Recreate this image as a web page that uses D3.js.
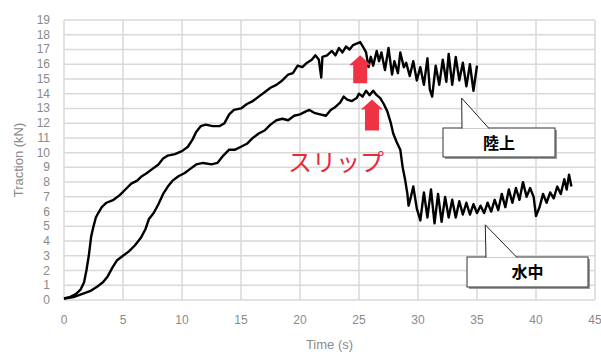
<!DOCTYPE html>
<html lang="ja">
<head>
<meta charset="UTF-8">
<title>Traction</title>
<script src="https://d3js.org/d3.v7.min.js"></script>
<style>
  body { margin: 0; background: #fff; }
  text { font-family: "Liberation Sans", "DejaVu Sans", sans-serif; }
</style>
</head>
<body>
<script>
// 陸上 (land)
const landTime = [0,0.5,1.0,1.4,1.7,1.9,2.1,2.3,2.5,2.7,2.9,3.2,3.6,4.2,4.7,5.2,5.7,6.2,6.6,7.0,7.5,8.0,8.4,8.8,9.4,10.0,10.5,10.9,11.2,11.6,12.0,12.6,13.2,13.6,14.0,14.4,15.0,15.5,16.0,16.5,17.0,17.5,18.0,18.5,19.0,19.4,19.8,20.2,20.6,21.0,21.3,21.6,21.8,21.9,22.3,22.7,23.0,23.3,23.6,23.9,24.2,24.5,24.8,25.1,25.4,25.6,25.8,26.0,26.2,26.5,26.7,26.9,27.2,27.5,27.8,28.0,28.3,28.5,28.8,29.0,29.3,29.6,29.9,30.2,30.5,30.8,31.0,31.2,31.5,31.8,32.1,32.4,32.6,32.9,33.2,33.5,33.8,34.1,34.4,34.7,35.0]
const landForce = [0.1,0.2,0.4,0.7,1.2,2.0,3.0,4.3,5.0,5.6,5.9,6.3,6.6,6.8,7.1,7.5,7.9,8.1,8.4,8.6,8.9,9.2,9.6,9.8,9.9,10.1,10.4,10.9,11.4,11.8,11.9,11.8,11.8,12.0,12.6,12.9,13.0,13.3,13.5,13.8,14.1,14.4,14.6,14.9,15.3,15.4,15.9,15.8,16.1,16.3,16.6,16.3,15.1,16.5,16.6,16.9,16.6,17.1,16.8,17.2,17.0,17.3,17.4,17.5,17.1,16.8,15.8,16.5,15.9,16.9,16.2,16.8,15.6,17.1,15.3,16.2,15.4,16.8,15.8,16.1,15.2,16.2,14.9,15.8,14.6,16.4,14.3,13.8,15.9,14.6,16.3,14.8,16.7,14.6,16.5,14.9,16.1,14.5,16.0,14.2,15.9]

// 水中 (underwater)
const waterTime = [0,0.8,1.5,2.2,2.8,3.3,3.7,4.1,4.5,5.0,5.5,6.0,6.5,6.9,7.2,7.6,8.0,8.4,8.8,9.2,9.7,10.2,10.7,11.2,11.8,12.5,13.0,13.5,14.0,14.5,15.0,15.5,16.0,16.5,17.0,17.5,18.0,18.5,19.0,19.5,20.0,20.5,20.8,21.2,21.7,22.2,22.6,23.0,23.4,23.7,24.0,24.4,24.8,25.0,25.3,25.6,25.9,26.2,26.5,26.8,27.1,27.4,27.7,27.9,28.2,28.5,28.7,28.9,29.1,29.2,29.4,29.6,29.9,30.2,30.5,30.8,31.1,31.4,31.7,32.0,32.3,32.6,32.9,33.2,33.5,33.8,34.1,34.4,34.7,35.0,35.3,35.6,35.9,36.2,36.5,36.8,37.1,37.4,37.7,38.0,38.3,38.6,38.9,39.2,39.5,39.8,40.0,40.3,40.6,40.9,41.2,41.5,41.8,42.1,42.4,42.6,42.8,43.0]
const waterForce = [0.1,0.2,0.4,0.6,0.9,1.2,1.6,2.2,2.7,3.0,3.3,3.7,4.2,4.8,5.5,5.9,6.5,7.2,7.7,8.1,8.4,8.6,8.9,9.2,9.3,9.2,9.3,9.8,10.2,10.2,10.4,10.6,11.0,11.3,11.5,11.9,12.2,12.3,12.2,12.5,12.6,12.8,12.9,12.7,12.6,12.5,12.9,13.1,13.4,13.8,13.6,13.5,13.7,14.0,13.8,14.2,13.9,14.2,13.9,13.7,13.3,12.8,12.0,11.3,10.7,10.2,9.0,8.2,7.2,6.4,7.0,7.7,6.2,5.4,7.3,5.6,7.5,5.2,7.2,5.3,7.0,5.6,6.8,5.6,6.7,5.8,6.6,5.8,6.5,5.9,6.4,5.9,6.6,6.0,6.8,6.1,7.2,6.3,7.5,6.6,7.6,6.8,8.0,7.0,7.6,7.0,5.7,6.3,7.2,6.6,7.3,6.9,7.7,7.2,8.2,7.5,8.5,7.7]

const xTicks = [0,5,10,15,20,25,30,35,40,45]
const yTicks = d3.range(0, 20)

const width = 601
const height = 352

const svg = d3.select("body").append("svg")
    .attr("width", width)
    .attr("height", height)

const x = d3.scaleLinear().domain([0, 45]).range([64, 595])
const y = d3.scaleLinear().domain([0, 19]).range([300, 20])

// grid
svg.append("g").selectAll("line")
    .data(yTicks).enter().append("line")
    .attr("x1", x(0)).attr("x2", x(45))
    .attr("y1", d => y(d)).attr("y2", d => y(d))
    .attr("stroke", "#d9d9d9").attr("stroke-width", 1.5)
svg.append("g").selectAll("line")
    .data(xTicks).enter().append("line")
    .attr("y1", y(0)).attr("y2", y(19))
    .attr("x1", d => x(d)).attr("x2", d => x(d))
    .attr("stroke", "#d9d9d9").attr("stroke-width", 1.5)

// tick labels
svg.append("g").selectAll("text")
    .data(yTicks).enter().append("text")
    .attr("x", 50).attr("y", d => y(d) + 4)
    .attr("text-anchor", "end")
    .attr("fill", "#8a8a8a").style("font-size", "12px")
    .text(d => d)
svg.append("g").selectAll("text")
    .data(xTicks).enter().append("text")
    .attr("x", d => x(d)).attr("y", 324)
    .attr("text-anchor", "middle")
    .attr("fill", "#8a8a8a").style("font-size", "12px")
    .text(d => d)

// axis titles
svg.append("text")
    .attr("x", x(22.5)).attr("y", 349)
    .attr("text-anchor", "middle")
    .attr("fill", "#8a8a8a").style("font-size", "13px")
    .text("Time (s)")
svg.append("text")
    .attr("transform", `translate(23, ${y(9.5)}) rotate(-90)`)
    .attr("text-anchor", "middle")
    .attr("fill", "#8a8a8a").style("font-size", "13px")
    .text("Traction (kN)")

// curves
const line = d3.line().x(d => x(d[0])).y(d => y(d[1]))
const land = landTime.map((t, i) => [t, landForce[i]])
const water = waterTime.map((t, i) => [t, waterForce[i]])
svg.append("path").datum(land)
    .attr("d", line).attr("fill", "none")
    .attr("stroke", "#000").attr("stroke-width", 2.4).attr("stroke-linejoin", "round")
svg.append("path").datum(water)
    .attr("d", line).attr("fill", "none")
    .attr("stroke", "#000").attr("stroke-width", 2.4).attr("stroke-linejoin", "round")

// red arrows (slip points)
const arrows = [
    { t: 25.1, top: 16.6, bottom: 14.7 },
    { t: 26.1, top: 13.6, bottom: 11.5 }
]
svg.append("g").selectAll("path")
    .data(arrows).enter().append("path")
    .attr("fill", "#ee3344")
    .attr("d", d => {
        const cx = x(d.t), ty = y(d.top), by = y(d.bottom)
        const hb = ty + 10
        return `M${cx},${ty} L${cx + 11},${hb} L${cx + 7},${hb} L${cx + 7},${by} L${cx - 7},${by} L${cx - 7},${hb} L${cx - 11},${hb} Z`
    })

svg.append("text")
    .attr("x", 288).attr("y", 171)
    .attr("fill", "#e8283f")
    .style("font-family", "'Noto Sans CJK JP', sans-serif")
    .style("font-weight", 400)
    .style("font-size", "24px")
    .text("スリップ")

// callouts
const callouts = [
    { label: "陸上", tipT: 33.7, tipV: 13.7, x0: 443, x1: 555, y0: 128, y1: 157, p0: 462, p1: 489 },
    { label: "水中", tipT: 35.7, tipV: 5.1, x0: 467, x1: 588, y0: 257, y1: 287, p0: 486, p1: 517 }
]
const cg = svg.append("g").selectAll("g").data(callouts).enter().append("g")
cg.append("rect")
    .attr("x", d => d.x0 + 2).attr("y", d => d.y0 + 2)
    .attr("width", d => d.x1 - d.x0).attr("height", d => d.y1 - d.y0)
    .attr("fill", "#9a9a9a")
cg.append("rect")
    .attr("x", d => d.x0).attr("y", d => d.y0)
    .attr("width", d => d.x1 - d.x0).attr("height", d => d.y1 - d.y0)
    .attr("fill", "#fff").attr("stroke", "#333").attr("stroke-width", 1)
cg.append("path")
    .attr("d", d => `M${d.p0},${d.y0 + 0.5} L${x(d.tipT)},${y(d.tipV)} L${d.p1},${d.y0 + 0.5}`)
    .attr("fill", "#fff").attr("stroke", "#222").attr("stroke-width", 1)
cg.append("text")
    .attr("x", d => (d.x0 + d.x1) / 2).attr("y", d => (d.y0 + d.y1) / 2 + 6)
    .attr("text-anchor", "middle")
    .style("font-family", "'Noto Sans CJK JP', sans-serif")
    .style("font-weight", 700)
    .style("font-size", "16px")
    .attr("fill", "#000")
    .text(d => d.label)
</script>
</body>
</html>
